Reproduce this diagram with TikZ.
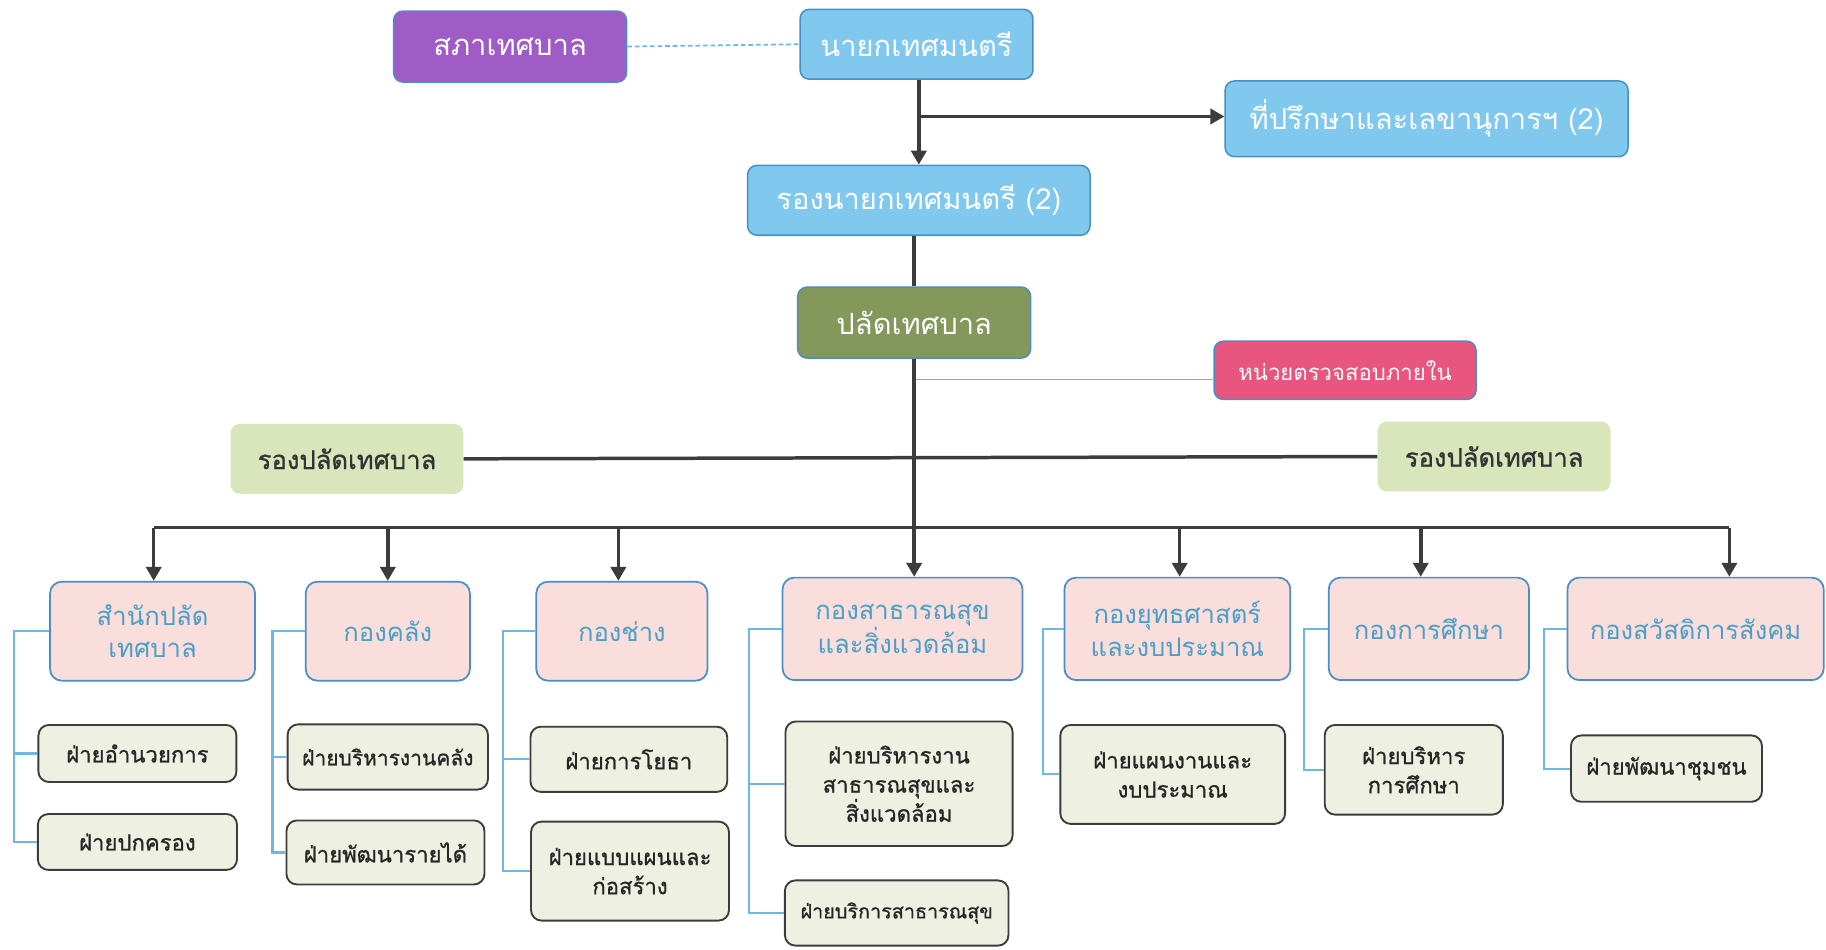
\documentclass[tikz,border=0pt]{standalone}
\usepackage{fontspec}
\setmainfont[Script=Thai]{Loma}
\newfontfamily\thaisub[Script=Thai,FakeBold=0.9]{Loma}
\usetikzlibrary{arrows.meta}
\definecolor{bord}{HTML}{4A8FC4}
\definecolor{purp}{HTML}{A05CC6}
\definecolor{lblue}{HTML}{80C8EE}
\definecolor{olive}{HTML}{84985C}
\definecolor{auditc}{HTML}{E8557E}
\definecolor{rpal}{HTML}{D9E5BB}
\definecolor{kongf}{HTML}{F9DEDB}
\definecolor{kongt}{HTML}{4A9EC8}
\definecolor{subf}{HTML}{EEF0E2}
\definecolor{brk}{HTML}{6DB8E0}
\definecolor{mline}{HTML}{3C3C3C}
\tikzset{
  x=1pt,y=1pt,
  topbox/.style={draw=bord,line width=1.3pt,rounded corners=8pt,text=white,inner sep=0pt,font=\fontsize{25}{30}\selectfont},
  kongbox/.style={draw=bord,fill=kongf,line width=1.5pt,rounded corners=10pt,text=kongt,inner sep=0pt,align=center,font=\fontsize{22}{28}\selectfont},
  subbox/.style={draw=mline,fill=subf,line width=1.6pt,rounded corners=9pt,text=black!85,inner sep=0pt,align=center,font=\thaisub\fontsize{19}{25}\selectfont},
  rpbox/.style={fill=rpal,rounded corners=8pt,text=black!80,inner sep=0pt,minimum width=200pt,minimum height=60pt,font=\thaisub\fontsize{22}{28}\selectfont},
  mainln/.style={draw=mline,line width=3pt},
  arr/.style={mainln,-{Triangle[width=13pt,length=12pt]}},
  brkln/.style={draw=brk,line width=1.8pt},
}
\begin{document}
\begin{tikzpicture}
\useasboundingbox[fill=white] (0,0) rectangle (1568,-815);
% top
\node[topbox,fill=purp,minimum width=200pt,minimum height=61pt] (sapha) at (438,-40) {สภาเทศบาล};
\node[topbox,fill=lblue,minimum width=200pt,minimum height=60pt] (nayok) at (787,-38) {นายกเทศมนตรี};
\node[topbox,fill=lblue,minimum width=346pt,minimum height=65pt] (prueksa) at (1225,-102) {ที่ปรึกษาและเลขานุการฯ (2)};
\node[topbox,fill=lblue,minimum width=294pt,minimum height=60pt] (ronayok) at (789,-172) {รองนายกเทศมนตรี (2)};
\node[topbox,fill=olive,minimum width=200pt,minimum height=61pt] (palat) at (785,-277) {ปลัดเทศบาล};
\node[topbox,fill=auditc,minimum width=225pt,minimum height=50pt,font=\fontsize{19}{24}\selectfont] (audit) at (1155,-318) {หน่วยตรวจสอบภายใน};
\node[rpbox] (rp1) at (298,-394) {รองปลัดเทศบาล};
\node[rpbox] (rp2) at (1283,-392) {รองปลัดเทศบาล};
% kong
\node[kongbox,minimum width=176pt,minimum height=85pt] (k1) at (131,-542) {สำนักปลัด\\เทศบาล};
\node[kongbox,minimum width=141pt,minimum height=85pt] (k2) at (333,-542) {กองคลัง};
\node[kongbox,minimum width=147pt,minimum height=85pt] (k3) at (534,-542) {กองช่าง};
\node[kongbox,minimum width=206pt,minimum height=88pt] (k4) at (775,-540) {กองสาธารณสุข\\และสิ่งแวดล้อม};
\node[kongbox,minimum width=194pt,minimum height=88pt] (k5) at (1011,-540) {กองยุทธศาสตร์\\และงบประมาณ};
\node[kongbox,minimum width=172pt,minimum height=88pt] (k6) at (1227,-540) {กองการศึกษา};
\node[kongbox,minimum width=220pt,minimum height=88pt] (k7) at (1456,-540) {กองสวัสดิการสังคม};
% sub
\node[subbox,minimum width=170pt,minimum height=49pt] (s11) at (118,-647) {ฝ่ายอำนวยการ};
\node[subbox,minimum width=171pt,minimum height=48pt] (s12) at (118,-723) {ฝ่ายปกครอง};
\node[subbox,minimum width=172pt,minimum height=56pt,font=\thaisub\fontsize{18}{24}\selectfont] (s21) at (333,-650) {ฝ่ายบริหารงานคลัง};
\node[subbox,minimum width=170pt,minimum height=55pt] (s22) at (331,-732) {ฝ่ายพัฒนารายได้};
\node[subbox,minimum width=169pt,minimum height=56pt] (s31) at (540,-652) {ฝ่ายการโยธา};
\node[subbox,minimum width=170pt,minimum height=85pt] (s32) at (541,-748) {ฝ่ายแบบแผนและ\\ก่อสร้าง};
\node[subbox,minimum width=195pt,minimum height=107pt] (s41) at (772,-673) {ฝ่ายบริหารงาน\\สาธารณสุขและ\\สิ่งแวดล้อม};
\node[subbox,minimum width=192pt,minimum height=56pt,font=\thaisub\fontsize{17}{22}\selectfont] (s42) at (770,-784) {ฝ่ายบริการสาธารณสุข};
\node[subbox,minimum width=193pt,minimum height=85pt] (s51) at (1007,-665) {ฝ่ายแผนงานและ\\งบประมาณ};
\node[subbox,minimum width=153pt,minimum height=77pt] (s61) at (1214,-661) {ฝ่ายบริหาร\\การศึกษา};
\node[subbox,minimum width=164pt,minimum height=57pt] (s71) at (1431,-660) {ฝ่ายพัฒนาชุมชน};
% connectors top
\draw[brk,line width=1.5pt,dash pattern=on 4pt off 2.5pt] (sapha.east) -- (nayok.west);
\coordinate (nb) at (789,-100);
\draw[arr] (nayok.south -| nb) -- (ronayok.north -| nb);
\draw[arr] (nb) -- (prueksa.west |- nb);
\draw[mainln] (ronayok.south -| palat) -- (palat.north);
\coordinate (ab) at (785,-326);
\draw[brk,line width=1.3pt] (ab) -- (audit.west |- ab);
\draw[mainln] (rp1.east) -- (rp2.west);
\coordinate (bus1) at (132,-453);
\coordinate (bus7) at (1485,-453);
\draw[mainln] (bus1) -- (bus7);
\draw[arr] (palat.south) -- (palat.south |- k4.north);
\coordinate (t1) at (132,-453);
\coordinate (t2) at (333,-453);
\coordinate (t3) at (531,-453);
\coordinate (t5) at (1013,-453);
\coordinate (t6) at (1220,-453);
\coordinate (t7) at (1485,-453);
\draw[arr] (t1) -- (t1 |- k1.north);
\draw[arr] (t2) -- (t2 |- k2.north);
\draw[arr] (t3) -- (t3 |- k3.north);
\draw[arr] (t5) -- (t5 |- k5.north);
\draw[arr] (t6) -- (t6 |- k6.north);
\draw[arr] (t7) -- (t7 |- k7.north);
% brackets
\draw[brkln] (k1.west) -- (12,-542) |- (s12.west);
\draw[brkln] (12,-647) -- (s11.west);
\draw[brkln] (k2.west) -- (234,-542) |- (s22.west);
\draw[brkln] (234,-650) -- (s21.west);
\draw[brkln] (k3.west) -- (432,-542) |- (s32.west);
\draw[brkln] (432,-652) -- (s31.west);
\draw[brkln] (k4.west) -- (643,-540) |- (s42.west);
\draw[brkln] (643,-673) -- (s41.west);
\draw[brkln] (k5.west) -- (896,-540) |- (s51.west);
\draw[brkln] (k6.west) -- (1120,-540) |- (s61.west);
\draw[brkln] (k7.west) -- (1326,-540) |- (s71.west);
\end{tikzpicture}
\end{document}
